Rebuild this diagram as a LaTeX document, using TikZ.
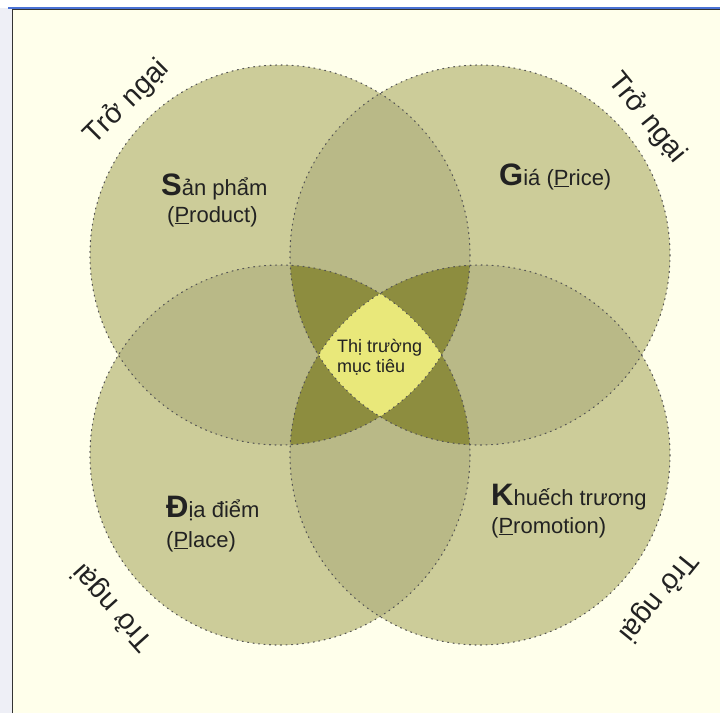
\documentclass[tikz,border=0pt]{standalone}
\usepackage{fontspec}
\setmainfont{Liberation Sans}
\definecolor{paper}{HTML}{FFFFEB}
\definecolor{sidebar}{HTML}{EEEFF6}
\definecolor{frameblue}{HTML}{4A72D6}
\definecolor{framedark}{HTML}{333333}
\definecolor{oneset}{HTML}{CCCC99}
\definecolor{twoset}{HTML}{B9B987}
\definecolor{threeset}{HTML}{8D8D3F}
\definecolor{fourset}{HTML}{E9E87A}
\definecolor{ink}{HTML}{222222}
\definecolor{rim}{HTML}{555555}
\newcommand{\rr}{190}
\begin{document}
\begin{tikzpicture}[x=1pt,y=-1pt,
  rimline/.style={draw=rim, line width=1.1pt, dash pattern=on 1pt off 4.5pt, line cap=round},
  body/.style={text=ink, inner sep=0pt, font=\fontsize{22}{25}\selectfont},
  core/.style={text=ink, inner sep=0pt, font=\fontsize{18}{21}\selectfont},
  barrier/.style={text=ink, inner sep=0pt, font=\fontsize{28.5}{31}\selectfont}]
\useasboundingbox (0,0) rectangle (720,713);
% page and frame
\fill[white] (0,0) rectangle (720,713);
\fill[sidebar] (0,8) rectangle (12,713);
\fill[paper] (12.5,9.5) rectangle (720,713);
\draw[framedark, line width=1.2pt] (12.5,713) -- (12.5,9.8) -- (720,9.8);
\draw[frameblue, line width=1.5pt] (8,7.8) -- (720,7.8);
% circle centres
\coordinate (cTL) at (280,255);
\coordinate (cTR) at (480,255);
\coordinate (cBL) at (280,455);
\coordinate (cBR) at (480,455);
% single coverage
\foreach \c in {cTL,cTR,cBL,cBR}
  \fill[oneset] (\c) circle[radius=\rr];
% pairwise overlaps
\foreach \a/\b in {cTL/cTR,cTL/cBL,cTR/cBR,cBL/cBR,cTL/cBR,cTR/cBL}{
  \begin{scope}
    \clip (\a) circle[radius=\rr];
    \fill[twoset] (\b) circle[radius=\rr];
  \end{scope}}
% triple overlaps
\foreach \a/\b/\c in {cTL/cTR/cBL,cTL/cTR/cBR,cTL/cBL/cBR,cTR/cBL/cBR}{
  \begin{scope}
    \clip (\a) circle[radius=\rr];
    \clip (\b) circle[radius=\rr];
    \fill[threeset] (\c) circle[radius=\rr];
  \end{scope}}
% common core
\begin{scope}
  \clip (cTL) circle[radius=\rr];
  \clip (cTR) circle[radius=\rr];
  \clip (cBL) circle[radius=\rr];
  \fill[fourset] (cBR) circle[radius=\rr];
\end{scope}
% dotted rims
\foreach \c in {cTL,cTR,cBL,cBR}
  \draw[rimline] (\c) circle[radius=\rr];
% labels of the four sets
\node[body, anchor=base west] (prod1) at (161,195) {{\fontsize{31}{31}\selectfont\bfseries S}ản phẩm};
\node[body, anchor=base west] (prod2) at (167,222) {(\underline{P}roduct)};
\node[body, anchor=base west] (price) at (499,185) {{\fontsize{31}{31}\selectfont\bfseries G}iá (\underline{P}rice)};
\node[body, anchor=base west] (place1) at (166,517) {{\fontsize{31}{31}\selectfont\bfseries Đ}ịa điểm};
\node[body, anchor=base west] (place2) at (166,547) {(\underline{P}lace)};
\node[body, anchor=base west] (promo1) at (491,505) {{\fontsize{31}{31}\selectfont\bfseries K}huếch trương};
\node[body, anchor=base west] (promo2) at (491,533) {(\underline{P}romotion)};
% target market
\node[core, anchor=base west] (target1) at (337,352) {Thị trường};
\node[core, anchor=base west] (target2) at (337,372) {mục tiêu};
% barriers around the outside
\node[barrier, rotate=45] (barTL) at (127,102) {Trở ngại};
\node[barrier, rotate=-51] (barTR) at (647,118) {Trở ngại};
\node[barrier, rotate=132] (barBL) at (113,607) {Trở ngại};
\node[barrier, rotate=231] (barBR) at (658,597) {Trở ngại};
\end{tikzpicture}
\end{document}
